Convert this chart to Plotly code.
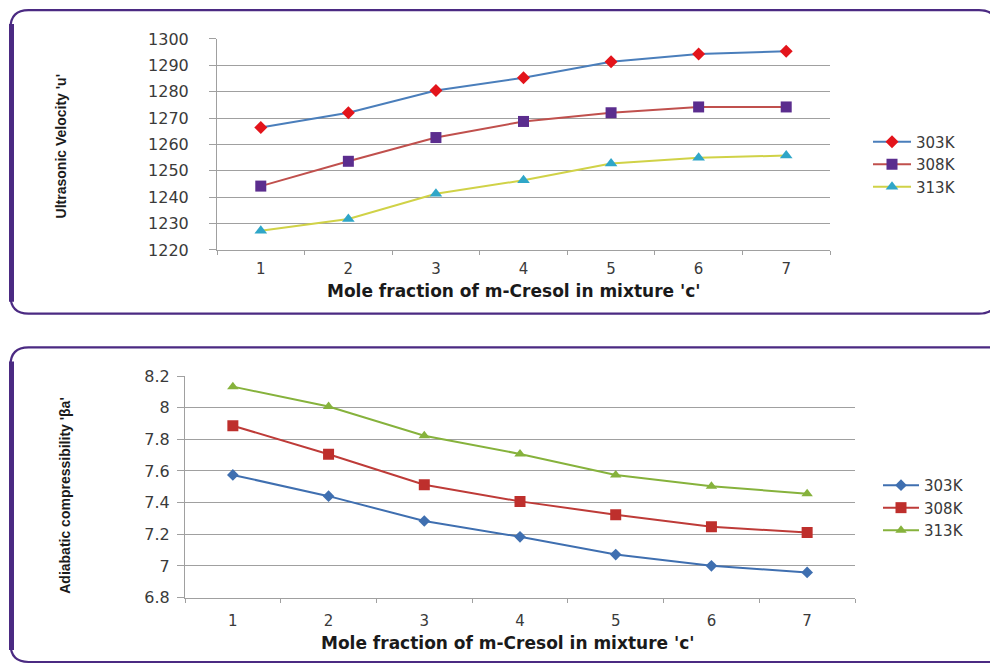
import plotly.graph_objects as go

W, H = 998, 666

# ---------------- data ----------------
categories = [1, 2, 3, 4, 5, 6, 7]
series_names = ["303K", "308K", "313K"]

velocity_303 = [1266.4, 1272.0, 1280.4, 1285.3, 1291.3, 1294.3, 1295.3]
velocity_308 = [1244.2, 1253.6, 1262.6, 1268.7, 1272.0, 1274.2, 1274.2]
velocity_313 = [1227.3, 1231.7, 1241.3, 1246.4, 1252.8, 1254.9, 1255.8]

compress_303 = [7.575, 7.441, 7.284, 7.184, 7.072, 7.001, 6.959]
compress_308 = [7.886, 7.706, 7.513, 7.408, 7.324, 7.248, 7.211]
compress_313 = [8.133, 8.007, 7.823, 7.708, 7.575, 7.504, 7.456]

velocity_ticks = [1220, 1230, 1240, 1250, 1260, 1270, 1280, 1290, 1300]
compress_ticks = [6.8, 7.0, 7.2, 7.4, 7.6, 7.8, 8.0, 8.2]
compress_ticktext = ["6.8", "7", "7.2", "7.4", "7.6", "7.8", "8", "8.2"]

x_title = "Mole fraction of m-Cresol in mixture 'c'"
y_title_top = "Ultrasonic Velocity 'u'"
y_title_bottom = "Adiabatic compressibility 'βa'"

# ---------------- helpers (screen pixel -> paper fraction) ----------------
OX, OY, PH = 8, 16, 650

def px_x(x):
    return (x - OX) / W

def px_y(y):
    return 1 - (y - OY) / PH

TICKFONT = dict(family="DejaVu Sans", size=16, color="#3a3a3a")
XTICKFONT = dict(family="DejaVu Sans", size=15, color="#3a3a3a")
GRID = "#a0a0a0"

fig = go.Figure()

top_styles = [
    dict(line=dict(color="#4a7ebb", width=2), marker=dict(symbol="diamond", color="#e3141b", size=10)),
    dict(line=dict(color="#c0504d", width=2), marker=dict(symbol="square", color="#5b2d8e", size=11)),
    dict(line=dict(color="#d0d247", width=2), marker=dict(symbol="triangle-up", color="#2fa6c8", size=11)),
]
bottom_styles = [
    dict(line=dict(color="#3f6fb0", width=2), marker=dict(symbol="diamond", color="#3f6fb0", size=9)),
    dict(line=dict(color="#be3b38", width=2), marker=dict(symbol="square", color="#be2f2c", size=11)),
    dict(line=dict(color="#86b23c", width=2), marker=dict(symbol="triangle-up", color="#86b23c", size=10)),
]

for name, vals, st in zip(series_names, [velocity_303, velocity_308, velocity_313], top_styles):
    fig.add_trace(go.Scatter(x=categories, y=vals, name=name, mode="lines+markers",
                             xaxis="x", yaxis="y", legend="legend", **st))

for name, vals, st in zip(series_names, [compress_303, compress_308, compress_313], bottom_styles):
    fig.add_trace(go.Scatter(x=categories, y=vals, name=name, mode="lines+markers",
                             xaxis="x2", yaxis="y2", legend="legend2", **st))

common_x = dict(
    range=[0.5, 7.5], tickvals=categories, ticktext=[str(c) for c in categories],
    showgrid=False, zeroline=False, showline=True, linecolor=GRID, linewidth=1,
    ticks="", tickfont=XTICKFONT,
    minor=dict(tickmode="linear", tick0=0.5, dtick=1, ticks="outside", ticklen=4, tickcolor=GRID, showgrid=False),
)
common_y = dict(
    showgrid=True, gridcolor=GRID, gridwidth=1, zeroline=False, showline=True,
    linecolor=GRID, linewidth=1, ticks="outside", ticklen=7, tickcolor=GRID, tickfont=TICKFONT,
)

LEGFONT = dict(family="DejaVu Sans", size=15, color="#3a3a3a")

fig.update_layout(
    width=W, height=H,
    margin=dict(l=0, r=0, t=0, b=0),
    paper_bgcolor="white", plot_bgcolor="white",
    xaxis=dict(domain=[px_x(217), px_x(830)], anchor="y", ticklabelstandoff=5, **common_x),
    yaxis=dict(domain=[px_y(250), px_y(38)], anchor="x", range=[1220, 1300],
               tickvals=velocity_ticks, ticklabelstandoff=17, **common_y),
    xaxis2=dict(domain=[px_x(185), px_x(855)], anchor="y2", ticklabelstandoff=9, **common_x),
    yaxis2=dict(domain=[px_y(599.3), px_y(376.7)], anchor="x2", range=[6.8, 8.2],
                tickvals=compress_ticks, ticktext=compress_ticktext, ticklabelstandoff=4, **common_y),
    legend=dict(x=px_x(868), y=px_y(125), xanchor="left", yanchor="top", font=LEGFONT,
                bgcolor="rgba(0,0,0,0)", tracegroupgap=0, itemwidth=38),
    legend2=dict(x=px_x(878), y=px_y(470), xanchor="left", yanchor="top", font=LEGFONT,
                 bgcolor="rgba(0,0,0,0)", tracegroupgap=0, itemwidth=36),
    showlegend=True,
)

# axis titles as annotations
TITLEFONT_X = dict(family="DejaVu Sans", size=17, color="#1a1a1a", weight="bold")
TITLEFONT_Y = dict(family="Liberation Sans Narrow, Liberation Sans, Arial Narrow, sans-serif", size=14, color="#1a1a1a", weight="bold")
fig.add_annotation(text=x_title, x=px_x(513), y=px_y(291), xref="paper", yref="paper",
                   showarrow=False, font=TITLEFONT_X, xanchor="center", yanchor="middle")
fig.add_annotation(text=x_title, x=px_x(508), y=px_y(645), xref="paper", yref="paper",
                   showarrow=False, font=TITLEFONT_X, xanchor="center", yanchor="middle")
fig.add_annotation(text=y_title_top, x=px_x(61), y=px_y(146), xref="paper", yref="paper",
                   showarrow=False, font=TITLEFONT_Y, textangle=-90, xanchor="center", yanchor="middle")
fig.add_annotation(text=y_title_bottom, x=px_x(65), y=px_y(497), xref="paper", yref="paper",
                   showarrow=False, font=TITLEFONT_Y, textangle=-90, xanchor="center", yanchor="middle")

# panel borders (rounded frames)
BORDER = "#4b2a82"

def frame_path(x0, y0, x1, y1, r):
    X = px_x; Y = px_y
    return (f"M {X(x0 + r)},{Y(y0)} L {X(x1 - r)},{Y(y0)} "
            f"Q {X(x1)},{Y(y0)} {X(x1)},{Y(y0 + r)} L {X(x1)},{Y(y1 - r)} "
            f"Q {X(x1)},{Y(y1)} {X(x1 - r)},{Y(y1)} L {X(x0 + r)},{Y(y1)} "
            f"Q {X(x0)},{Y(y1)} {X(x0)},{Y(y1 - r)} L {X(x0)},{Y(y0 + r)} "
            f"Q {X(x0)},{Y(y0)} {X(x0 + r)},{Y(y0)} Z")

for (x0, y0, x1, y1) in [(10.5, 9, 997, 314), (10.5, 348, 1012, 664)]:
    fig.add_shape(type="path", path=frame_path(x0, y0, x1, y1, 18), xref="paper", yref="paper",
                  line=dict(color=BORDER, width=2.2), fillcolor="rgba(0,0,0,0)", layer="below")
    fig.add_shape(type="line", x0=px_x(x0 + 1), x1=px_x(x0 + 1), y0=px_y(y0 + 14), y1=px_y(y1 - 12),
                  xref="paper", yref="paper", line=dict(color=BORDER, width=5), layer="below")

fig.write_html("out.html")
